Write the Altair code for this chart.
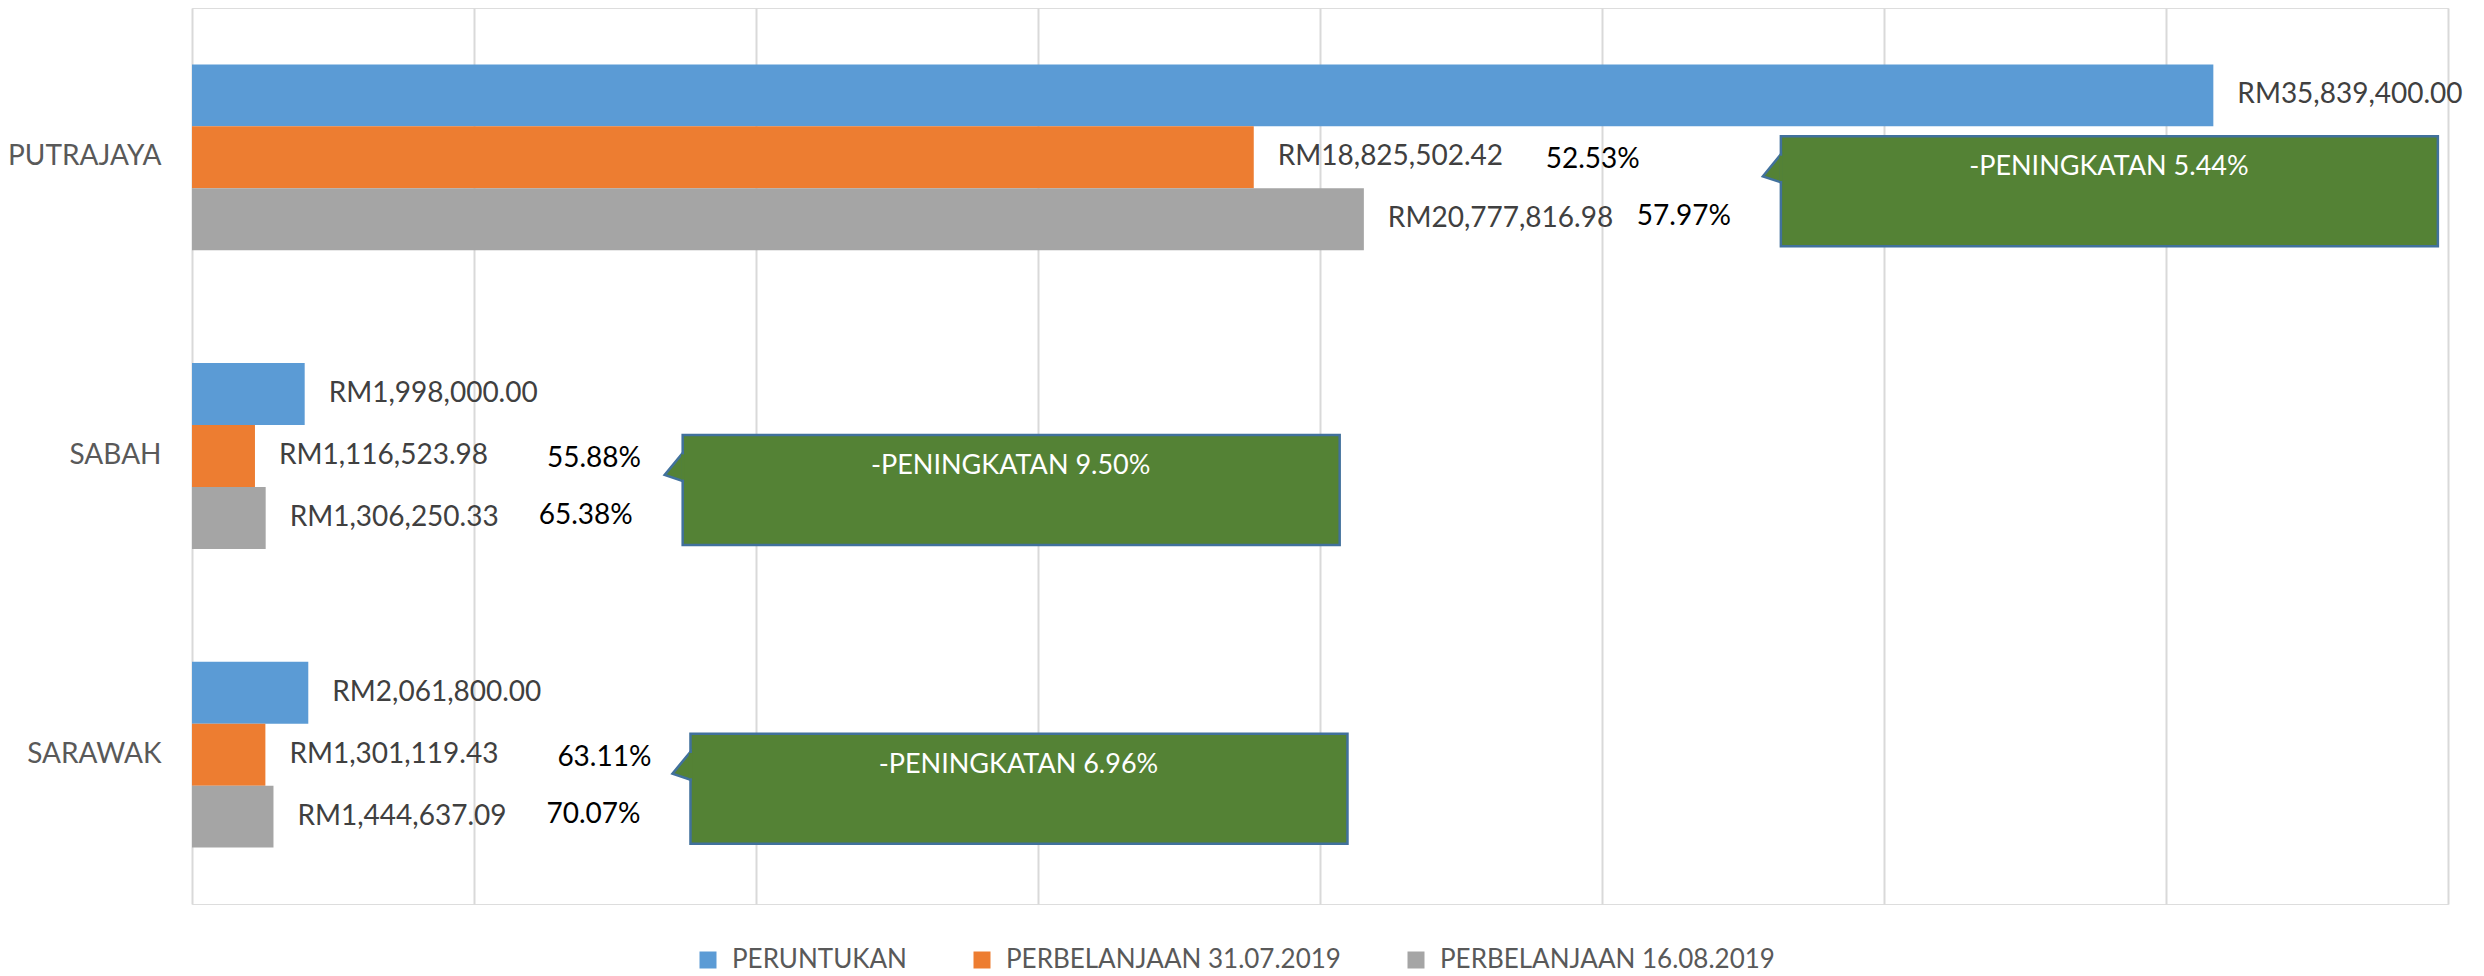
import altair as alt
import pandas as pd

# ---- data ----
negeri = ["PUTRAJAYA", "SABAH", "SARAWAK"]
siri = ["PERUNTUKAN", "PERBELANJAAN 31.07.2019", "PERBELANJAAN 16.08.2019"]
peruntukan = [35839400.00, 1998000.00, 2061800.00]
belanja_3107 = [18825502.42, 1116523.98, 1301119.43]
belanja_1608 = [20777816.98, 1306250.33, 1444637.09]
peningkatan = [5.44, 9.50, 6.96]
warna = ["#5B9BD5", "#ED7D31", "#A5A5A5"]
paksi_x = [0, 5000000, 10000000, 15000000, 20000000, 25000000, 30000000, 35000000, 40000000]

rows = []
for i, n in enumerate(negeri):
    for s, vals in zip(siri, [peruntukan, belanja_3107, belanja_1608]):
        rows.append({"negeri": n, "siri": s, "nilai": vals[i], "peruntukan": peruntukan[i]})
df = pd.DataFrame(rows)
callout_df = pd.DataFrame({"negeri": negeri, "nilai": belanja_1608, "peningkatan": peningkatan})

FONT = "Lato"
FS = 28
GREEN = "#548235"
EDGE = "#41719C"

y = alt.Y("negeri:N", sort=negeri, title=None,
          scale=alt.Scale(domain=negeri, paddingInner=0.378, paddingOuter=0.189))
yoff = alt.YOffset("siri:N", sort=siri,
                   scale=alt.Scale(domain=siri, paddingInner=0, paddingOuter=0))
x_axis = alt.X("nilai:Q", title=None,
               scale=alt.Scale(domain=[0, 40000000], nice=False, zero=True),
               axis=alt.Axis(values=paksi_x, labels=False, ticks=False, domain=False,
                             grid=True, gridColor="#D9D9D9", gridWidth=2))
x = alt.X("nilai:Q", title=None)

base = alt.Chart(df)

bars = base.mark_bar().encode(
    y=y, yOffset=yoff, x=x_axis,
    color=alt.Color("siri:N", sort=siri, scale=alt.Scale(domain=siri, range=warna),
                    legend=alt.Legend(title=None, orient="none", direction="horizontal",
                                      legendX=503, legendY=939, symbolType="square",
                                      symbolSize=289, symbolStrokeWidth=0,
                                      labelFontSize=26, labelColor="#595959", labelFont=FONT,
                                      labelOffset=11, columnPadding=62, padding=0,
                                      labelLimit=600)),
)

values = base.transform_calculate(
    lbl="'RM' + format(datum.nilai, ',.2f')"
).mark_text(align="left", baseline="middle", dx=24, fontSize=FS, font=FONT,
            color="#404040").encode(y=y, yOffset=yoff, x=x, text="lbl:N")

pct_orange = base.transform_filter(
    alt.datum.siri == siri[1]
).transform_calculate(
    pct="format(datum.nilai / datum.peruntukan, '.2%')"
).mark_text(align="left", baseline="middle", dx=292, dy=3, fontSize=FS, font=FONT,
            color="#000000").encode(y=y, yOffset=yoff, x=x, text="pct:N")

pct_gray = base.transform_filter(
    alt.datum.siri == siri[2]
).transform_calculate(
    pct="format(datum.nilai / datum.peruntukan, '.2%')"
).mark_text(align="left", baseline="middle", dx=273, dy=-2, fontSize=FS, font=FONT,
            color="#000000").encode(y=y, yOffset=yoff, x=x, text="pct:N")

cbase = alt.Chart(callout_df)

box = cbase.mark_bar(fill=GREEN, stroke=EDGE, strokeWidth=2.5, size=110,
                     xOffset=417, x2Offset=1074, yOffset=34).encode(
    y=y, x=x, x2=alt.X2("nilai"))

wedge = cbase.mark_point(shape="M 0 -0.7 L -0.9 0.4 L 0 0.7 Z", size=1600, filled=True,
                         fill=GREEN, stroke=EDGE, strokeWidth=2.5, opacity=1,
                         xOffset=417, yOffset=11).encode(y=y, x=x)

patch = cbase.mark_point(shape="M -0.08 -0.63 L 0.1 -0.63 L 0.1 0.63 L -0.08 0.63 Z",
                         size=1600, filled=True, fill=GREEN, strokeWidth=0, opacity=1,
                         xOffset=417, yOffset=11).encode(y=y, x=x)

ctext = cbase.transform_calculate(
    t="'-PENINGKATAN ' + format(datum.peningkatan, '.2f') + '%'"
).mark_text(align="center", baseline="middle", dx=745, dy=10, fontSize=27, font=FONT,
            color="#FFFFFF").encode(y=y, x=x, text="t:N")

chart = alt.layer(bars, values, pct_orange, pct_gray, box, wedge, patch, ctext).properties(
    width=2256, height=896,
    autosize=alt.AutoSizeParams(type="none"),
    padding={"left": 184, "top": 0, "right": 20, "bottom": 70},
).configure_view(stroke=None).configure(font=FONT, background="#FFFFFF").configure_axisY(
    domain=False, ticks=False, grid=False, labelPadding=31, labelFontSize=FS,
    labelColor="#595959", labelFont=FONT)

chart.save("out.html", embed_options={"renderer": "svg", "actions": False})
